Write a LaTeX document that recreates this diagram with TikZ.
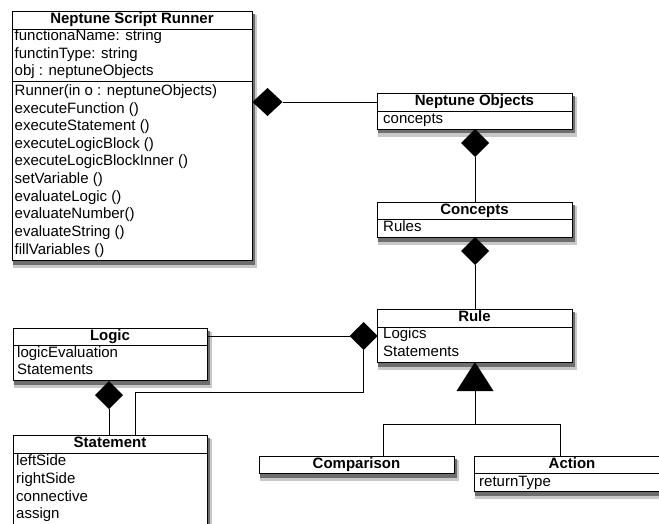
\documentclass[tikz,border=0pt]{standalone}
\usepackage{fontspec}
\setmainfont{Liberation Sans}
\usetikzlibrary{shapes.geometric,calc}
\definecolor{shA}{RGB}{200,200,200}
\definecolor{shB}{RGB}{110,110,110}
\newcommand\umlbox[5]{%
  \path[fill=shA] (#2+1,#3+4) rectangle (#4+5,#5+8);
  \path[fill=shB] (#2+1,#3+3) rectangle (#4+3,#5+4.5);
  \node[cls, minimum width=#4pt-#2pt, minimum height=#5pt-#3pt] (#1) at ({(#2+#4)/2},{(#3+#5)/2}) {};
}
\begin{document}
\begin{tikzpicture}[x=1pt,y=-1pt,
  cls/.style={draw=black, line width=0.9pt, fill=white, inner sep=0pt, outer sep=0pt},
  ttl/.style={font=\fontsize{15}{17.6}\selectfont\bfseries, inner sep=0pt, text height=11pt, text depth=3.2pt},
  txt/.style={font=\fontsize{15}{17.6}\selectfont, anchor=west, inner sep=0pt, text height=11pt, text depth=3.2pt},
  dia/.style={diamond, fill=black, draw=none, minimum width=28pt, minimum height=28pt, inner sep=0pt, outer sep=0pt, shape aspect=1},
  conn/.style={line width=0.9pt}]
\useasboundingbox (0,0) rectangle (659,524);
\clip (0,0) rectangle (659,524);

% class boxes with shadows
\umlbox{nsr}{12}{11}{252}{260}
\umlbox{no}{377}{93}{572}{129}
\umlbox{conc}{377}{202}{572}{237}
\umlbox{rule}{377}{309}{572}{362}
\umlbox{logic}{13}{328}{207}{380}
\umlbox{stm}{13}{435}{207}{530}
\umlbox{comp}{259}{456}{454}{473}
\umlbox{act}{474}{456}{670}{491}

% compartment separators
\draw[conn] (nsr.west |- 0,29) -- (nsr.east |- 0,29);
\draw[conn] (nsr.west |- 0,81) -- (nsr.east |- 0,81);
\draw[conn] (no.west |- 0,111) -- (no.east |- 0,111);
\draw[conn] (conc.west |- 0,219) -- (conc.east |- 0,219);
\draw[conn] (rule.west |- 0,327) -- (rule.east |- 0,327);
\draw[conn] (logic.west |- 0,345) -- (logic.east |- 0,345);
\draw[conn] (stm.west |- 0,453) -- (stm.east |- 0,453);
\draw[conn] (act.west |- 0,473) -- (act.east |- 0,473);

% titles
\node[ttl] (nsrt) at (132,20) {Neptune Script Runner};
\node[ttl] (not) at (474.5,102) {Neptune Objects};
\node[ttl] (conct) at (474.5,210.5) {Concepts};
\node[ttl] (rulet) at (474.5,318) {Rule};
\node[ttl] (logict) at (110,336.5) {Logic};
\node[ttl] (stmt) at (110,444) {Statement};
\node[ttl] (compt) at (356.5,464.5) {Comparison};
\node[ttl] (actt) at (572,464.5) {Action};

% attributes and operations
\foreach \t [count=\i from 0] in {functionaName: string,functinType: string,obj : neptuneObjects}
  \node[txt] (nsra\i) at (14.5,37+17.5*\i) {\t};
\foreach \t [count=\i from 0] in {Runner(in o : neptuneObjects),executeFunction (),executeStatement (),executeLogicBlock (),executeLogicBlockInner (),setVariable (),evaluateLogic (),evaluateNumber(),evaluateString (),fillVariables ()}
  \node[txt] (nsrm\i) at (14.5,91.7+17.6*\i) {\t};
\node[txt] (noa) at (383,120) {concepts};
\node[txt] (conca) at (383,228) {Rules};
\node[txt] (rulea1) at (383,335) {Logics};
\node[txt] (rulea2) at (383,352.7) {Statements};
\node[txt] (logica1) at (17,353.3) {logicEvaluation};
\node[txt] (logica2) at (17,371) {Statements};
\foreach \t [count=\i from 0] in {leftSide,rightSide,connective,assign}
  \node[txt] (stma\i) at (16,461.7+17.7*\i) {\t};
\node[txt] (acta) at (479,482.3) {returnType};

% composition diamonds
\node[dia, minimum width=30pt] (d1) at (267.5,102) {};
\node[dia] (d2) at (475,143) {};
\node[dia] (d3) at (475,251) {};
\node[dia] (d4) at (363.5,336) {};
\node[dia] (d5) at (109,395) {};

% connectors
\draw[conn] (d1.east) -- (d1.east -| no.west);
\draw[conn] (d2.south) -- (d2.south |- conc.north);
\draw[conn] (d3.south) -- (d3.south |- rule.north);
\draw[conn] (logic.east |- d4.west) -- (d4.west);
\coordinate (j1) at (135,392);
\draw[conn] (d4.south) |- (j1) -- (j1 |- stm.north);
\draw[conn] (d5.south) -- (d5.south |- stm.north);

% generalisation
\coordinate (tb) at (475,391);
\fill[black] (tb |- rule.south) -- ($(tb)+(-18.5,0)$) -- ($(tb)+(18.5,0)$) -- cycle;
\coordinate (hl) at (383,424);
\coordinate (hr) at (560,424);
\draw[conn] (tb) -- (tb |- hl);
\draw[conn] (comp.north -| hl) -- (hl) -- (hr) -- (hr |- act.north);
\end{tikzpicture}
\end{document}
